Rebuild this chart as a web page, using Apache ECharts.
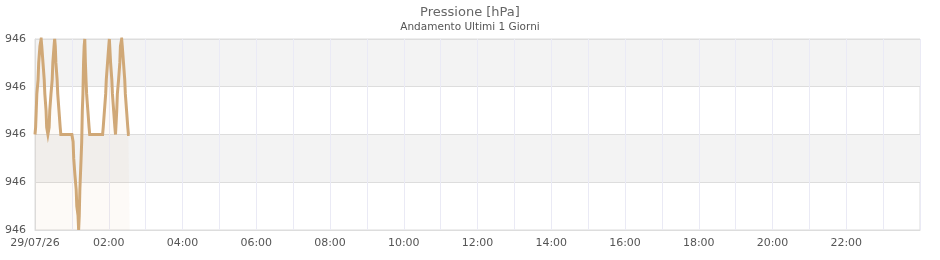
<!DOCTYPE html>
<html>
<head>
<meta charset="utf-8">
<script src="https://cdn.jsdelivr.net/npm/echarts@6/dist/echarts.min.js"></script>
<style>html,body{margin:0;padding:0;background:#fff}#c{width:940px;height:260px}</style>
</head>
<body>
<div id="c"></div>
<script>
const chartTitle = 'Pressione [hPa]';
const chartSubtitle = 'Andamento Ultimi 1 Giorni';
const dateLabel = '29/07/26';
// minutes from midnight
const times = [0,1,2,3,5,6,8,10,11,13,15,16,18,19,21,23,24,26,28,29,31,32,33,34,36,37,39,41,42,60,62,63,65,67,68,70,71,72,73,75,76,77,78,79,80,81,82,83,84,86,88,89,110,111,113,115,116,118,120,121,123,125,126,128,130,131,133,134,136,138,139,141,142,144,146,147,149,151,152,154];
const pressure = [946.00,946.03,946.10,946.17,946.23,946.30,946.37,946.40,946.37,946.30,946.23,946.17,946.10,946.03,946.00,946.03,946.10,946.17,946.23,946.30,946.37,946.40,946.37,946.30,946.23,946.17,946.10,946.03,946.00,946.00,945.97,945.90,945.83,945.77,945.70,945.66,945.60,945.66,945.77,945.90,945.97,946.10,946.17,946.30,946.37,946.40,946.30,946.23,946.17,946.10,946.03,946.00,946.00,946.03,946.10,946.17,946.23,946.30,946.37,946.40,946.30,946.23,946.17,946.10,946.03,946.00,946.10,946.17,946.23,946.30,946.37,946.40,946.37,946.30,946.23,946.17,946.10,946.03,946.00,946.00];
const yMin = 945.6, yMax = 946.4, yStep = 0.2;

const data = times.map((t, i) => [t, pressure[i]]);
const chart = echarts.init(document.getElementById('c'), null, {renderer: 'canvas'});
chart.setOption({
  animation: false,
  textStyle: {fontFamily: 'DejaVu Sans'},
  title: {
    left: 'center', top: 1, text: chartTitle, subtext: chartSubtitle, itemGap: 3,
    textStyle: {fontFamily: 'DejaVu Sans', fontSize: 13, fontWeight: 'normal', color: '#666'},
    subtextStyle: {fontFamily: 'DejaVu Sans', fontSize: 10.5, color: '#555'}
  },
  grid: {left: 35, right: 20, top: 39, bottom: 30, show: true, borderColor: '#dddddd', borderWidth: 1},
  xAxis: {
    type: 'value', min: 0, max: 1440, interval: 60,
    axisLine: {show: true, lineStyle: {color: '#dddddd'}},
    axisTick: {show: false},
    splitLine: {show: true, lineStyle: {color: '#eaeaf5', width: 1}},
    axisLabel: {
      color: '#555', fontSize: 11, margin: 8, fontFamily: 'DejaVu Sans', showMaxLabel: false,
      formatter: v => {
        if (v === 0) return dateLabel;
        if (v % 120 === 0 && v < 1440) { const h = v / 60; return (h < 10 ? '0' : '') + h + ':00'; }
        return '';
      }
    }
  },
  yAxis: {
    type: 'value', min: yMin, max: yMax, interval: yStep,
    axisLine: {show: true, lineStyle: {color: '#dddddd'}},
    axisTick: {show: false},
    splitLine: {show: true, lineStyle: {color: '#dddddd'}},
    splitArea: {show: true, areaStyle: {color: ['rgba(255,255,255,0)', '#f3f3f3']}},
    axisLabel: {color: '#555', fontSize: 11, margin: 9, fontFamily: 'DejaVu Sans', formatter: v => Math.round(v).toString()}
  },
  series: [{
    type: 'line', data: data, step: 'end', showSymbol: false,
    lineStyle: {color: '#d0a877', width: 3, join: 'miter'},
    itemStyle: {color: '#d0a877'},
    areaStyle: {color: 'rgba(215,165,115,0.08)'}
  }]
});
</script>
</body>
</html>
